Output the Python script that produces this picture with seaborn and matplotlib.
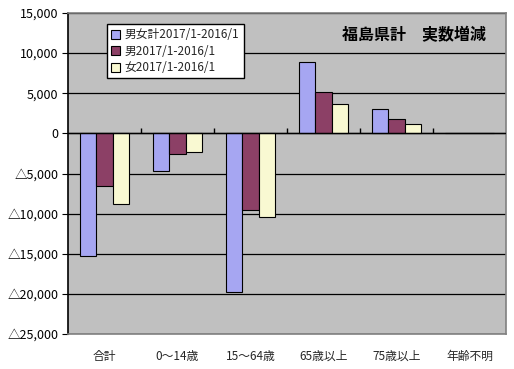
import matplotlib
matplotlib.use("Agg")
import matplotlib.pyplot as plt
import seaborn as sns
import pandas as pd
from matplotlib.ticker import FuncFormatter, NullFormatter

categories = ["合計", "0～14歳", "15～64歳", "65歳以上", "75歳以上", "年齢不明"]
series_names = ["男女計2017/1-2016/1", "男2017/1-2016/1", "女2017/1-2016/1"]
total_vals = [-15300, -4650, -19800, 8950, 3080, 0]
male_vals = [-6500, -2580, -9540, 5210, 1830, 0]
female_vals = [-8790, -2290, -10370, 3710, 1210, 0]
colors = ["#9999FF", "#993366", "#FFFFCC"]
title = "福島県計　実数増減"

rows = []
for name, vals in zip(series_names, [total_vals, male_vals, female_vals]):
    for c, v in zip(categories, vals):
        rows.append({"category": c, "series": name, "value": v})
df = pd.DataFrame(rows)

sns.set_style("white")
plt.rcParams["font.family"] = ["Noto Sans CJK JP", "DejaVu Sans"]

fig = plt.figure(figsize=(5.14, 3.69), dpi=100)
ax = fig.add_axes([68/514, 1-334/369, 438/514, 321/369])
ax.set_facecolor("#C0C0C0")

sns.barplot(data=df, x="category", y="value", hue="series", palette=colors,
            order=categories, hue_order=series_names, width=0.68,
            edgecolor="black", linewidth=0.8, ax=ax, zorder=3)

ax.set_ylim(-25000, 15000)
ax.set_yticks(range(-25000, 15001, 5000))
ax.yaxis.set_major_formatter(FuncFormatter(
    lambda v, p: f"{int(v):,}" if v >= 0 else "△" + f"{int(-v):,}"))
ax.set_xlim(-0.5, len(categories) - 0.5)
ax.grid(axis="y", color="black", linewidth=0.9, zorder=1)
ax.set_axisbelow(True)
ax.axhline(0, color="black", linewidth=1.0, zorder=4)

ax.tick_params(axis="y", left=True, length=4, width=0.8, direction="out",
               labelsize=9, pad=3, colors="black")
ax.tick_params(axis="x", bottom=False, labelsize=8.5, pad=8)
ax.set_xlabel("")
ax.set_ylabel("")

for s in ["top", "right"]:
    ax.spines[s].set_color("#808080")
    ax.spines[s].set_linewidth(1.2)
ax.spines["bottom"].set_color("#808080")
ax.spines["bottom"].set_linewidth(1.2)
ax.spines["left"].set_color("black")
ax.spines["left"].set_linewidth(1.2)

sec = ax.secondary_xaxis(25000/40000)
sec.set_xticks([i + 0.5 for i in range(len(categories) - 1)])
sec.xaxis.set_major_formatter(NullFormatter())
sec.tick_params(axis="x", which="both", direction="in", length=3.5, width=1.0,
                color="black", bottom=True, top=False,
                labelbottom=False, labeltop=False)
for s in sec.spines.values():
    s.set_visible(False)

leg = ax.legend(loc="upper left", bbox_to_anchor=(38.5/438, 1-11/321),
                fontsize=8.5, frameon=True, fancybox=False, handlelength=0.8,
                handleheight=0.8, handletextpad=0.4, borderpad=0.35,
                labelspacing=0.3, borderaxespad=0)
leg.get_frame().set_edgecolor("black")
leg.get_frame().set_linewidth(1.0)
leg.get_frame().set_facecolor("white")
leg.get_frame().set_alpha(1)

ax.text(0.955, 0.93, title, transform=ax.transAxes, ha="right", va="center",
        fontsize=11.5, fontweight="bold", color="black")

fig.savefig("out.png", dpi=100, facecolor="white")
